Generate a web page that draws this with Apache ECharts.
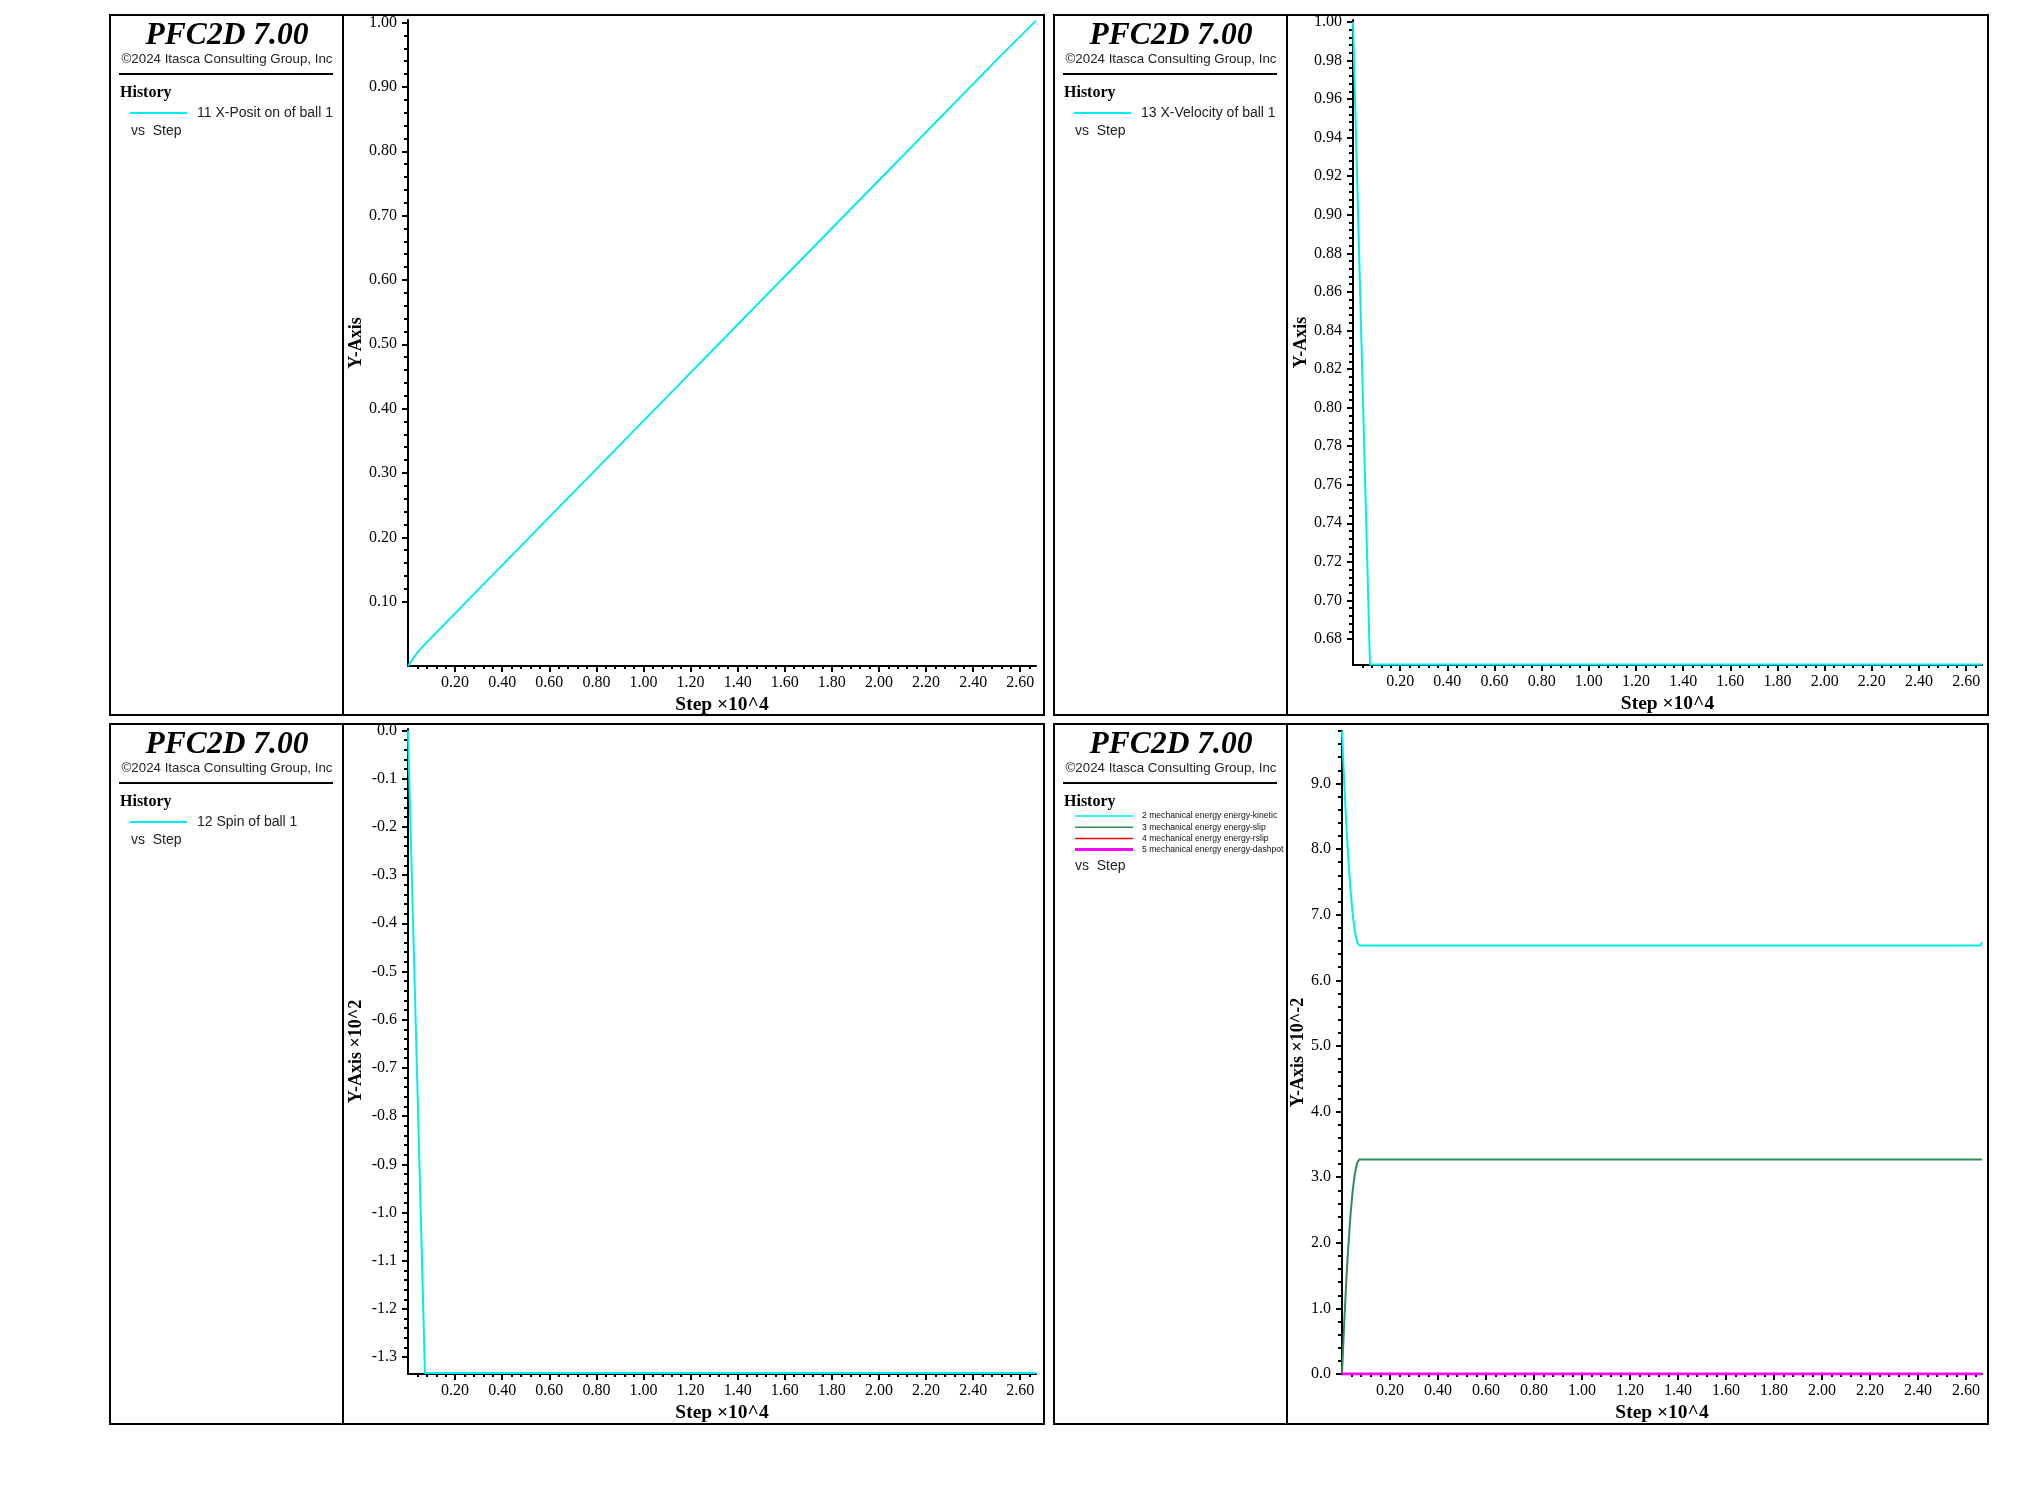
<!DOCTYPE html>
<html>
<head>
<meta charset="utf-8">
<script src="https://cdn.jsdelivr.net/npm/echarts@6/dist/echarts.min.js"></script>
<style>
html,body{margin:0;padding:0;background:#fff;}
#c{width:2021px;height:1495px;}
</style>
</head>
<body>
<div id="c"></div>
<script>
// ---------- data (x in Step x10^4) ----------
const posStep = [0, 0.018, 0.036, 0.054, 0.072, 0.5, 1.0, 1.5, 2.0, 2.5, 2.667];
const posVal  = [0, 0.0098, 0.0189, 0.0270, 0.0340, 0.1940, 0.3810, 0.5680, 0.7550, 0.9420, 1.003];

const velStep = [0, 0.018, 0.036, 0.054, 0.072, 2.667];
const velVal  = [1.0, 0.917, 0.833, 0.750, 0.6667, 0.6667];

const spinStep = [0, 0.018, 0.036, 0.054, 0.072, 2.667];
const spinVal  = [0, -0.333, -0.667, -1.0, -1.333, -1.333];

const enStep    = [0, 0.0095, 0.018, 0.0238, 0.036, 0.045, 0.054, 0.063, 0.072, 2.66, 2.667];
const enKinetic = [9.8, 9.0, 8.37, 8.0, 7.35, 6.99, 6.74, 6.58, 6.53, 6.53, 6.58];
const enSlip    = [0, 0.80, 1.43, 1.80, 2.45, 2.81, 3.06, 3.22, 3.27, 3.27, 3.27];
const enRslip   = [0, 0, 0, 0, 0, 0, 0, 0, 0, 0, 0];
const enDashpot = [0, 0, 0, 0, 0, 0, 0, 0, 0, 0, 0];

// tick label values
const xTickLabels   = [0.20,0.40,0.60,0.80,1.00,1.20,1.40,1.60,1.80,2.00,2.20,2.40,2.60];
const posTickLabels = [0.10,0.20,0.30,0.40,0.50,0.60,0.70,0.80,0.90,1.00];
const velTickLabels = [0.68,0.70,0.72,0.74,0.76,0.78,0.80,0.82,0.84,0.86,0.88,0.90,0.92,0.94,0.96,0.98,1.00];
const spinTickLabels= [0.0,-0.1,-0.2,-0.3,-0.4,-0.5,-0.6,-0.7,-0.8,-0.9,-1.0,-1.1,-1.2,-1.3];
const enTickLabels  = [0.0,1.0,2.0,3.0,4.0,5.0,6.0,7.0,8.0,9.0];

const CYAN = '#00eef2', GREEN = '#2e8b57', RED = '#ff0000', MAGENTA = '#ff00ff';

function zip(a, b) { return a.map((v, i) => [v, b[i]]); }
function range(lo, hi, step) {
  const out = []; const n = Math.round((hi - lo) / step);
  for (let i = 0; i <= n; i++) out.push(+(lo + i * step).toFixed(6));
  return out;
}

const SERIF = 'Liberation Serif';
const SANS = 'Liberation Sans';
const labelFont = { fontFamily: SERIF, fontSize: 16, color: '#000' };

const grids = [
  { left: 408,  top: 20,  width: 628, height: 646 },
  { left: 1353, top: 20,  width: 629, height: 645 },
  { left: 408,  top: 729, width: 628, height: 645 },
  { left: 1342, top: 731, width: 640, height: 643 }
];

const X_MIN = 0, X_MAX = 2.667;
const yCfg = [
  { min: 0, max: 1.004, labels: posTickLabels, dec: 2, minorStep: 0.02, name: 'Y-Axis', gap: 43 },
  { min: 0.6665, max: 1.001, labels: velTickLabels, dec: 2, minorStep: 0.004, name: 'Y-Axis', gap: 43 },
  { min: -1.335, max: 0.003, labels: spinTickLabels, dec: 1, minorStep: 0.02, name: 'Y-Axis \u00d710^2', gap: 43 },
  { min: 0, max: 9.8, labels: enTickLabels, dec: 1, minorStep: 0.2, name: 'Y-Axis \u00d710^-2', gap: 32 }
];

const xAxes = [], yAxes = [];
grids.forEach((g, i) => {
  xAxes.push({
    type: 'value', gridIndex: i, min: X_MIN, max: X_MAX, position: 'bottom',
    name: 'Step \u00d710^4', nameLocation: 'middle', nameGap: 29,
    nameTextStyle: { fontFamily: SERIF, fontWeight: 'bold', fontSize: 19.5, color: '#000' },
    axisLine: { show: true, onZero: false, lineStyle: { color: '#000', width: 2 } },
    axisTick: { show: true, length: 6, customValues: xTickLabels, lineStyle: { color: '#000', width: 2 } },
    axisLabel: Object.assign({ show: true, margin: 9, customValues: xTickLabels,
      formatter: v => v.toFixed(2) }, labelFont),
    splitLine: { show: false }
  });
  xAxes.push({
    type: 'value', gridIndex: i, min: X_MIN, max: X_MAX, position: 'bottom',
    axisLine: { show: false, onZero: false },
    axisTick: { show: true, length: 3, customValues: range(0.04, 2.64, 0.04), lineStyle: { color: '#000', width: 2 } },
    axisLabel: { show: false }, splitLine: { show: false }
  });
  const c = yCfg[i];
  yAxes.push({
    type: 'value', gridIndex: i, min: c.min, max: c.max, position: 'left',
    name: c.name, nameLocation: 'middle', nameGap: c.gap, nameRotate: 90,
    nameTextStyle: { fontFamily: SERIF, fontWeight: 'bold', fontSize: 18, color: '#000' },
    axisLine: { show: true, onZero: false, lineStyle: { color: '#000', width: 2 } },
    axisTick: { show: true, length: 6, customValues: c.labels, lineStyle: { color: '#000', width: 2 } },
    axisLabel: Object.assign({ show: true, margin: 11, customValues: c.labels,
      formatter: v => v.toFixed(c.dec) }, labelFont),
    splitLine: { show: false }
  });
  const lo = c.labels.reduce((a, b) => Math.min(a, b));
  const hi = c.labels.reduce((a, b) => Math.max(a, b));
  const minors = range(lo, hi, c.minorStep).concat(range(hi, c.max, c.minorStep))
    .filter(v => v >= c.min && v <= c.max);
  yAxes.push({
    type: 'value', gridIndex: i, min: c.min, max: c.max, position: 'left',
    axisLine: { show: false, onZero: false },
    axisTick: { show: true, length: 4, customValues: minors, lineStyle: { color: '#000', width: 2 } },
    axisLabel: { show: false }, splitLine: { show: false }
  });
});

function line(gi, data, color, width, z) {
  return {
    type: 'line', xAxisIndex: gi * 2, yAxisIndex: gi * 2, data: data,
    showSymbol: false, symbol: 'none', animation: false, z: z || 2,
    lineStyle: { color: color, width: width }, itemStyle: { color: color }
  };
}

const series = [
  line(0, zip(posStep, posVal), CYAN, 2),
  line(1, zip(velStep, velVal), CYAN, 2),
  line(2, zip(spinStep, spinVal), CYAN, 2),
  line(3, zip(enStep, enKinetic), CYAN, 2),
  line(3, zip(enStep, enSlip), GREEN, 2),
  line(3, zip(enStep, enRslip), RED, 2),
  line(3, zip(enStep, enDashpot), MAGENTA, 3, 4)
];

// ---------- side panels (boxes + legend) ----------
function txt(x, y, s, o) {
  return { type: 'text', x: x, y: y, silent: true, z: 10,
    style: Object.assign({ text: s, fill: '#000', textVerticalAlign: 'middle' }, o) };
}
function seg(x1, y1, x2, y2, color, w) {
  return { type: 'line', silent: true, z: 10,
    shape: { x1: x1, y1: y1, x2: x2, y2: y2 }, style: { stroke: color, lineWidth: w } };
}
function panel(ox, oy, items) {
  const els = [];
  els.push({ type: 'rect', silent: true, z: 10, shape: { x: ox, y: oy, width: 934, height: 700 },
    style: { fill: null, stroke: '#000', lineWidth: 2 } });
  els.push(seg(ox + 233, oy, ox + 233, oy + 700, '#000', 2));
  els.push(txt(ox + 117, oy + 21, 'PFC2D 7.00', { textAlign: 'center',
    fontFamily: SERIF, fontWeight: 'bold', fontStyle: 'italic', fontSize: 31.5 }));
  els.push(txt(ox + 117, oy + 44, '\u00a92024 Itasca Consulting Group, Inc', { textAlign: 'center',
    fontFamily: SANS, fontSize: 13.3, fill: '#222' }));
  els.push(seg(ox + 9, oy + 59, ox + 223, oy + 59, '#000', 2));
  els.push(txt(ox + 10, oy + 78, 'History', { fontFamily: SERIF, fontWeight: 'bold', fontSize: 16 }));
  if (items.length === 1) {
    els.push(seg(ox + 20, oy + 98, ox + 77, oy + 98, items[0].color, 2));
    els.push(txt(ox + 87, oy + 98, items[0].label, { fontFamily: SANS, fontSize: 14, fill: '#222' }));
    els.push(txt(ox + 21, oy + 116, 'vs  Step', { fontFamily: SANS, fontSize: 14, fill: '#222' }));
  } else {
    items.forEach((it, k) => {
      const y = oy + 92 + k * 11.2;
      els.push(seg(ox + 21, y, ox + 79, y, it.color, it.w || 1.5));
      els.push(txt(ox + 88, y, it.label, { fontFamily: SANS, fontSize: 8.6, fill: '#111' }));
    });
    els.push(txt(ox + 21, oy + 142, 'vs  Step', { fontFamily: SANS, fontSize: 14, fill: '#222' }));
  }
  return els;
}

const graphics = [].concat(
  panel(110, 15, [{ color: CYAN, label: '11 X-Posit on of ball 1' }]),
  panel(1054, 15, [{ color: CYAN, label: '13 X-Velocity of ball 1' }]),
  panel(110, 724, [{ color: CYAN, label: '12 Spin of ball 1' }]),
  panel(1054, 724, [
    { color: CYAN, label: '2 mechanical energy energy-kinetic' },
    { color: GREEN, label: '3 mechanical energy energy-slip' },
    { color: RED, label: '4 mechanical energy energy-rslip' },
    { color: MAGENTA, label: '5 mechanical energy energy-dashpot', w: 3 }
  ])
);

const chart = echarts.init(document.getElementById('c'), null, { renderer: 'canvas' });
chart.setOption({
  backgroundColor: '#fff',
  animation: false,
  grid: grids,
  xAxis: xAxes,
  yAxis: yAxes,
  series: series,
  graphic: graphics
});
</script>
</body>
</html>
